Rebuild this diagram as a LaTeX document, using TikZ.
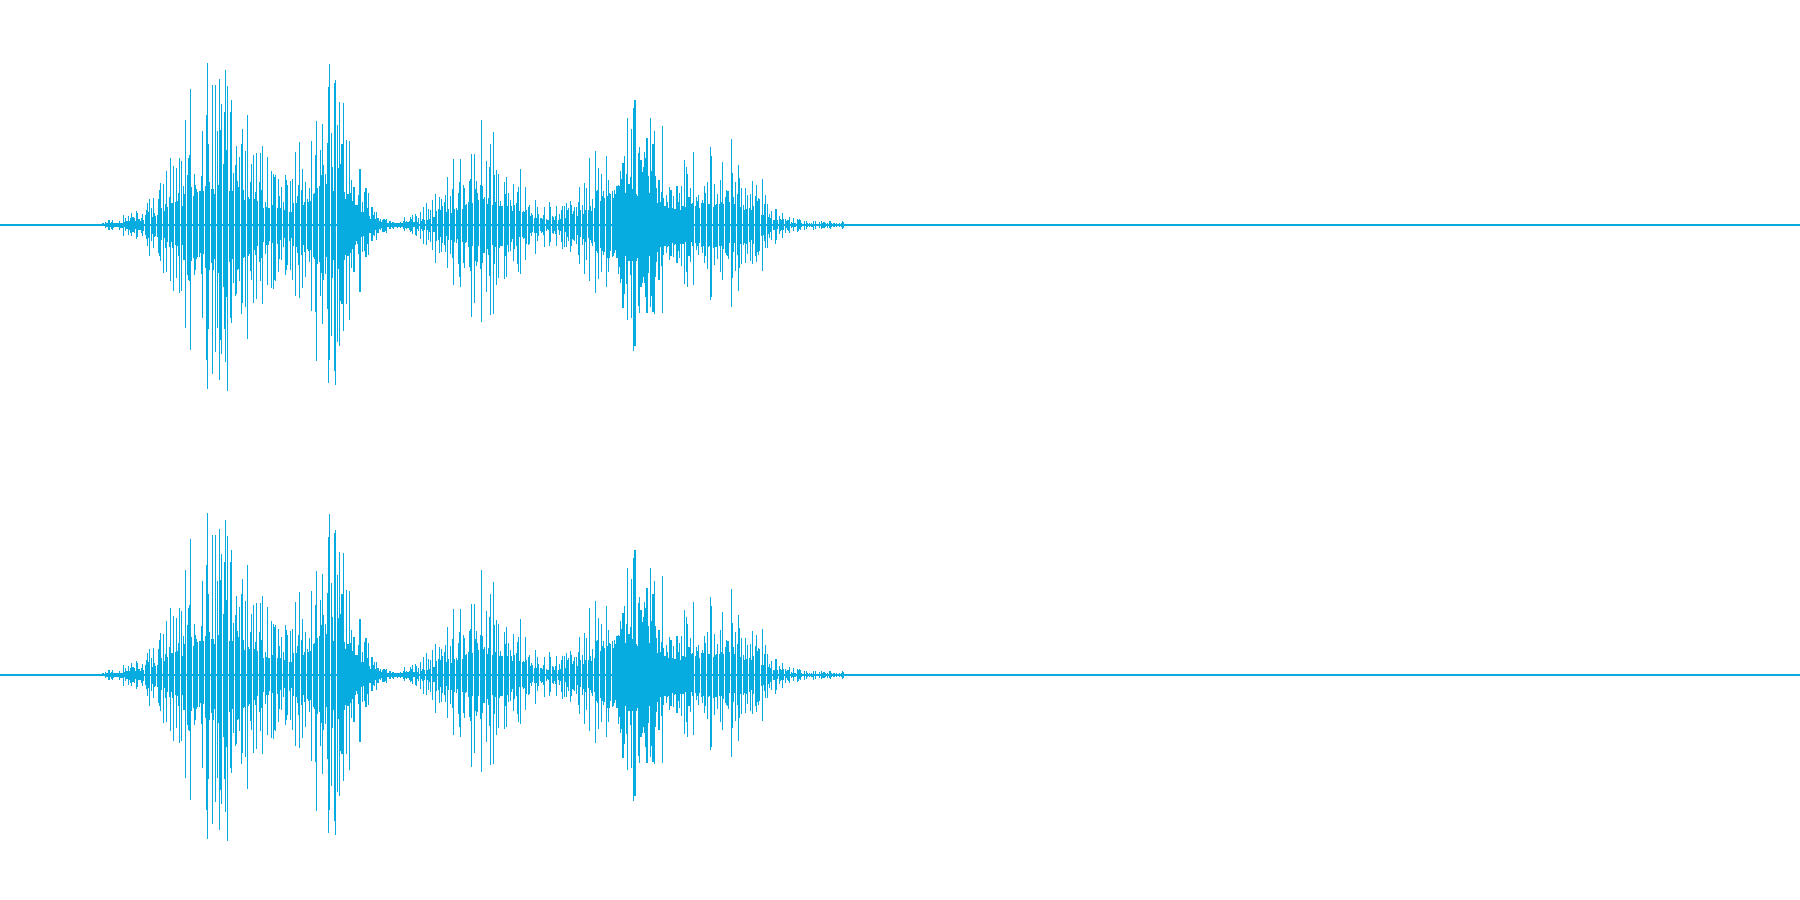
\documentclass[tikz,border=0pt]{standalone}
\definecolor{wave}{HTML}{06ACE0}
\begin{document}
\begin{tikzpicture}[wv/.style={wave,line width=0.3pt}]
\useasboundingbox (0,0) rectangle (18,9);
\foreach \cy in {6.75,2.25}{
  \draw[wv,line width=0.45pt] (0,\cy) -- (18,\cy);
  \pgfmathsetseed{4242}
  \foreach \x in {1.03,1.042,...,8.45}{
    \pgfmathsetmacro\e{1.55*exp(-min(((\x-2.2)/0.55)^2,30))+1.6*exp(-min(((\x-3.3)/0.3)^2,30))+1.0*exp(-min(((\x-4.85)/0.45)^2,30))+1.4*exp(-min(((\x-6.3)/0.45)^2,30))+0.9*exp(-min(((\x-7.25)/0.4)^2,30))+0.04}
    \pgfmathsetmacro\r{0.22+0.78*rnd^2.2}
    \pgfmathsetmacro\u{\e*\r*(0.85+0.3*rnd)}
    \pgfmathsetmacro\d{\e*\r*(0.85+0.3*rnd)}
    \draw[wv] (\x,\cy-\d) -- (\x,\cy+\u);
  }
}
\end{tikzpicture}
\end{document}
